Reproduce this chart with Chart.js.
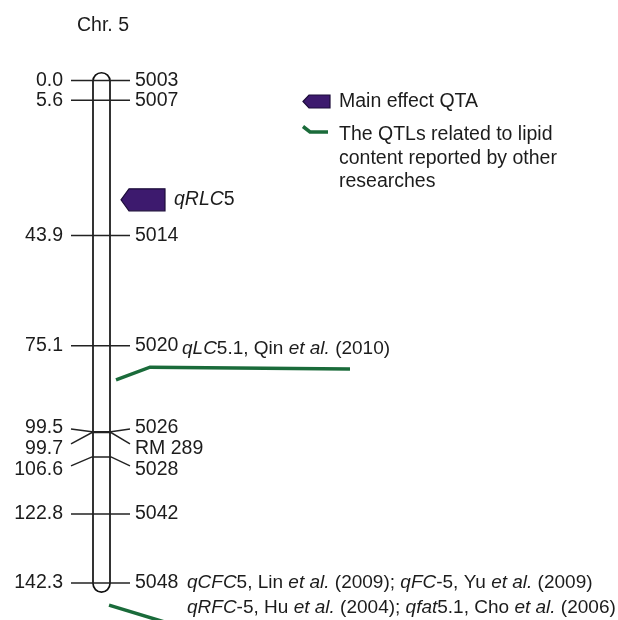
<!DOCTYPE html>
<html><head><meta charset="utf-8">
<script src="https://cdn.jsdelivr.net/npm/chart.js@4"></script>
<style>html,body{margin:0;padding:0;background:#fff}#wrap{width:618px;height:620px;position:relative}</style>
</head><body><div id="wrap"><canvas id="c"></canvas></div>
<script>
// ---------------- data ----------------
const chromosomeName = 'Chr. 5';
const markerNames = ['5003', '5007', '5014', '5020', '5026', 'RM 289', '5028', '5042', '5048'];
const markerPositions = [0.0, 5.6, 43.9, 75.1, 99.5, 99.7, 106.6, 122.8, 142.3];
const positionLabels = ['0.0', '5.6', '43.9', '75.1', '99.5', '99.7', '106.6', '122.8', '142.3'];
const mainQtlNames = [[['qRLC', 1], ['5', 0]]];
const mainQtlPositions = [33.8];
// reported QTL leader lines (cM): start at chromosome, bend, end
const reportedQtlLine1 = [84.8, 81.2, 81.7];
const reportedQtlLine2 = [148.6, 154.0];
const reportedQtlAnchor = ['5020', '5048'];
const reportedQtlText = [
  [[['qLC', 1], ['5.1, Qin ', 0], ['et al.', 1], [' (2010)', 0]]],
  [[['qCFC', 1], ['5, Lin ', 0], ['et al.', 1], [' (2009); ', 0], ['qFC', 1], ['-5, Yu ', 0], ['et al.', 1], [' (2009)', 0]],
   [['qRFC', 1], ['-5, Hu ', 0], ['et al.', 1], [' (2004); ', 0], ['qfat', 1], ['5.1, Cho ', 0], ['et al.', 1], [' (2006)', 0]]]
];
const legendLabels = [['Main effect QTA'], ['The QTLs related to lipid', 'content reported by other', 'researches']];

// ---------------- layout / style ----------------
const FONT = 'Liberation Sans, Arial, Helvetica, sans-serif';
const FS = 19.5;
const FS_NOTE = 19;
const TXT = '#1c1c1c';
const PURPLE = '#3d1a6e', PURPLE_EDGE = '#1d0d3a';
const GREEN = '#1a6b3a';
const Y_MIN = -22.8, Y_MAX = 152.8;
const PX_PER_CM = 620 / (Y_MAX - Y_MIN);
const CH_L = 93, CH_R = 110;
const TICK_L = 71, TICK_R = 130;
const LEFT_TEXT_X = 63, RIGHT_TEXT_X = 135;
const LABEL_MIN = 19 / PX_PER_CM;
const LABEL_GAP = 21 / PX_PER_CM;
const CLUSTER_SHIFT = 4 / PX_PER_CM;

// spread marker labels so they don't overlap
const labelPos = markerPositions.slice();
const shifted = markerPositions.map(() => false);
for (let i = 1; i < labelPos.length; i++) {
  if (labelPos[i] < labelPos[i - 1] + LABEL_MIN) {
    labelPos[i] = labelPos[i - 1] + LABEL_GAP;
    shifted[i] = true; shifted[i - 1] = true;
  }
}
for (let i = 0; i < labelPos.length; i++) if (shifted[i]) labelPos[i] -= CLUSTER_SHIFT;
const leaderEnd = labelPos.map((l, i) => l + (markerPositions[i] - l) * 0.3);

const datasets = [];
markerPositions.forEach((p, i) => {
  datasets.push({
    type: 'line', data: [
      {x: TICK_L, y: leaderEnd[i]}, {x: CH_L - 1, y: p}, {x: CH_R + 1, y: p}, {x: TICK_R, y: leaderEnd[i]}
    ], borderColor: '#222', borderWidth: 1.5, pointRadius: 0, tension: 0, clip: false
  });
});
datasets.push({type: 'line', data: [
  {x: 116, y: reportedQtlLine1[0]}, {x: 150, y: reportedQtlLine1[1]}, {x: 350, y: reportedQtlLine1[2]}
], borderColor: GREEN, borderWidth: 3.5, pointRadius: 0, tension: 0, borderJoinStyle: 'miter'});
datasets.push({type: 'line', data: [
  {x: 109, y: reportedQtlLine2[0]}, {x: 172, y: reportedQtlLine2[1]}
], borderColor: GREEN, borderWidth: 3.5, pointRadius: 0, tension: 0});

function richText(ctx, segs, x, y, fs) {
  let cx = x;
  segs.forEach(([t, it]) => {
    ctx.font = (it ? 'italic ' : '') + fs + 'px ' + FONT;
    ctx.fillText(t, cx, y);
    cx += ctx.measureText(t).width;
  });
}
function arrowShape(ctx, tipX, cy, bodyL, bodyR, h) {
  ctx.beginPath();
  ctx.moveTo(tipX, cy);
  ctx.lineTo(bodyL, cy - h / 2);
  ctx.lineTo(bodyR, cy - h / 2);
  ctx.lineTo(bodyR, cy + h / 2);
  ctx.lineTo(bodyL, cy + h / 2);
  ctx.closePath();
  ctx.fillStyle = PURPLE; ctx.fill();
  ctx.strokeStyle = PURPLE_EDGE; ctx.lineWidth = 1.2; ctx.stroke();
}

const mapPlugin = {
  id: 'mapPlugin',
  beforeDatasetsDraw(chart) {
    const ctx = chart.ctx, ys = chart.scales.y;
    const top = ys.getPixelForValue(markerPositions[0] - 2.2);
    const bot = ys.getPixelForValue(markerPositions[markerPositions.length - 1] + 2.6);
    const r = (CH_R - CH_L) / 2, cx = (CH_L + CH_R) / 2;
    ctx.save();
    ctx.beginPath();
    ctx.moveTo(CH_L, top + r);
    ctx.arc(cx, top + r, r, Math.PI, 0);
    ctx.lineTo(CH_R, bot - r);
    ctx.arc(cx, bot - r, r, 0, Math.PI);
    ctx.closePath();
    ctx.strokeStyle = '#111'; ctx.lineWidth = 1.7; ctx.stroke();
    ctx.restore();
  },
  afterDatasetsDraw(chart) {
    const ctx = chart.ctx, ys = chart.scales.y;
    ctx.save();
    ctx.fillStyle = TXT;
    ctx.textBaseline = 'middle';
    ctx.font = FS + 'px ' + FONT;
    ctx.textAlign = 'left';
    ctx.fillText(chromosomeName, 77, 26);
    markerPositions.forEach((p, i) => {
      const y = ys.getPixelForValue(labelPos[i]);
      ctx.font = FS + 'px ' + FONT;
      ctx.textAlign = 'right';
      ctx.fillText(positionLabels[i], LEFT_TEXT_X, y);
      ctx.textAlign = 'left';
      ctx.fillText(markerNames[i], RIGHT_TEXT_X, y);
    });
    // main QTL
    mainQtlPositions.forEach((p, i) => {
      const y = ys.getPixelForValue(p);
      arrowShape(ctx, 121, y, 129, 165, 22);
      ctx.fillStyle = TXT; ctx.textAlign = 'left';
      richText(ctx, mainQtlNames[i], 174, y, FS);
    });
    // reported QTL texts
    const xs = [182, 187];
    reportedQtlText.forEach((lines, k) => {
      const mi = markerNames.indexOf(reportedQtlAnchor[k]);
      const y0 = ys.getPixelForValue(labelPos[mi]) + (k === 0 ? 3 : 0);
      lines.forEach((segs, j) => { ctx.fillStyle = TXT; richText(ctx, segs, xs[k], y0 + j * 25, FS_NOTE); });
    });
    // legend
    arrowShape(ctx, 303, 101.5, 309, 330, 13);
    ctx.beginPath();
    ctx.moveTo(303, 126.5); ctx.lineTo(310, 132); ctx.lineTo(328, 132);
    ctx.strokeStyle = GREEN; ctx.lineWidth = 3.5; ctx.stroke();
    ctx.fillStyle = TXT; ctx.font = FS + 'px ' + FONT; ctx.textAlign = 'left';
    ctx.fillText(legendLabels[0][0], 339, 101.5);
    legendLabels[1].forEach((t, j) => ctx.fillText(t, 339, 135 + j * 23.5));
    ctx.restore();
  }
};

new Chart(document.getElementById('c'), {
  type: 'scatter',
  data: {datasets},
  options: {
    responsive: true, maintainAspectRatio: false, animation: false,
    layout: {padding: 0},
    plugins: {legend: {display: false}, tooltip: {enabled: false}, title: {display: false}},
    events: [],
    scales: {
      x: {type: 'linear', min: 0, max: 618, display: false},
      y: {type: 'linear', min: Y_MIN, max: Y_MAX, reverse: true, display: false}
    }
  },
  plugins: [mapPlugin]
});
</script></body></html>
